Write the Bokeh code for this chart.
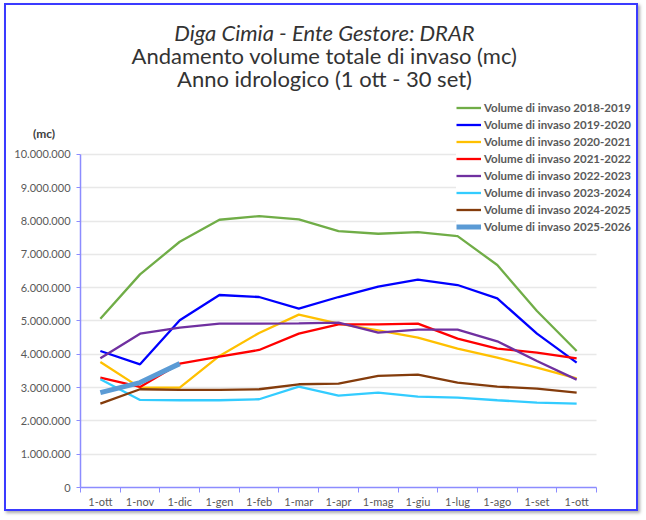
from bokeh.plotting import figure
from bokeh.models import (Range1d, FixedTicker, Legend, LegendItem, Label, ColumnDataSource, Grid)
from bokeh.embed import file_html
from bokeh.resources import INLINE

months = ["1-ott", "1-nov", "1-dic", "1-gen", "1-feb", "1-mar", "1-apr",
          "1-mag", "1-giu", "1-lug", "1-ago", "1-set", "1-ott"]

v_2018_2019 = [5.07, 6.40, 7.38, 8.04, 8.15, 8.05, 7.70, 7.62, 7.67, 7.55, 6.68, 5.30, 4.10]
v_2019_2020 = [4.10, 3.70, 5.02, 5.78, 5.72, 5.37, 5.72, 6.03, 6.24, 6.08, 5.68, 4.62, 3.75]
v_2020_2021 = [3.77, 3.00, 3.00, 3.95, 4.64, 5.19, 4.92, 4.72, 4.50, 4.17, 3.90, 3.60, 3.28]
v_2021_2022 = [3.30, 3.02, 3.72, 3.93, 4.13, 4.62, 4.90, 4.90, 4.92, 4.47, 4.17, 4.05, 3.88]
v_2022_2023 = [3.88, 4.62, 4.80, 4.92, 4.92, 4.93, 4.95, 4.65, 4.74, 4.74, 4.39, 3.80, 3.24]
v_2023_2024 = [3.25, 2.63, 2.62, 2.62, 2.65, 3.03, 2.76, 2.85, 2.73, 2.70, 2.62, 2.55, 2.52]
v_2024_2025 = [2.52, 2.95, 2.93, 2.93, 2.95, 3.10, 3.12, 3.35, 3.39, 3.15, 3.03, 2.97, 2.85]
v_2025_2026 = [2.85, 3.15, 3.72]

series_names = ["Volume di invaso 2018-2019", "Volume di invaso 2019-2020",
                "Volume di invaso 2020-2021", "Volume di invaso 2021-2022",
                "Volume di invaso 2022-2023", "Volume di invaso 2023-2024",
                "Volume di invaso 2024-2025", "Volume di invaso 2025-2026"]
series_values = [v_2018_2019, v_2019_2020, v_2020_2021, v_2021_2022,
                 v_2022_2023, v_2023_2024, v_2024_2025, v_2025_2026]
series_colors = ["#70ad47", "#0000ff", "#ffc000", "#ff0000",
                 "#7030a0", "#33ccff", "#843c0c", "#5b9bd5"]
series_widths = [2.3, 2.3, 2.3, 2.3, 2.3, 2.3, 2.3, 5]

y_ticks = [0, 1e6, 2e6, 3e6, 4e6, 5e6, 6e6, 7e6, 8e6, 9e6, 10e6]
y_tick_labels = ["0", "1.000.000", "2.000.000", "3.000.000", "4.000.000",
                 "5.000.000", "6.000.000", "7.000.000", "8.000.000",
                 "9.000.000", "10.000.000"]

FONT = "Lato"
AXIS_BLUE = "#8c8cff"
TXT = "#595959"

X_LO, X_HI = -0.5, len(months) - 0.5
Y_LO, Y_HI = y_ticks[0], y_ticks[-1]

# the frame covers the whole card so that titles, legend and tick labels are not clipped
p = figure(width=634, height=508, output_backend="svg", toolbar_location=None,
           x_range=Range1d(-2.264, 13.508), y_range=Range1d(-0.7207e6, 14.354e6),
           min_border_left=4, min_border_right=4, min_border_top=4,
           min_border_bottom=2)
p.outline_line_color = None
p.styles = {"border": "2px solid #3a3aff", "margin-left": "4px", "margin-top": "3px",
            "box-shadow": "2px 2px 3px #aaa"}

# grid lines limited to the plot area
if "cross_bounds" in Grid.properties():
    p.ygrid.ticker = FixedTicker(ticks=y_ticks[1:])
    p.ygrid.cross_bounds = (X_LO, X_HI)
    p.ygrid.grid_line_color = "#e8e8e8"
    p.ygrid.grid_line_width = 1.5
else:
    p.ygrid.grid_line_color = None
    p.segment(x0=[X_LO] * 10, x1=[X_HI] * 10, y0=y_ticks[1:], y1=y_ticks[1:],
              line_color="#e8e8e8", line_width=1.5, level="underlay")
p.xgrid.grid_line_color = None

renderers = []
for name, vals, col, w in zip(series_names, series_values, series_colors, series_widths):
    src = ColumnDataSource(dict(x=list(range(len(vals))), y=[v * 1e6 for v in vals]))
    r = p.line("x", "y", source=src, line_color=col, line_width=w)
    renderers.append(LegendItem(label=name, renderers=[r]))

# axes
p.xaxis.fixed_location = Y_LO
p.xaxis.bounds = (X_LO, X_HI)
p.xaxis.ticker = FixedTicker(ticks=list(range(13)), minor_ticks=[k - 0.5 for k in range(14)])
p.xaxis.major_label_overrides = {i: m for i, m in enumerate(months)}
p.xaxis.major_tick_line_color = None
p.xaxis.major_tick_out = 0
p.xaxis.major_tick_in = 0
p.xaxis.minor_tick_out = 5
p.xaxis.minor_tick_in = 0
p.xaxis.minor_tick_line_color = AXIS_BLUE
p.xaxis.axis_line_color = AXIS_BLUE
p.xaxis.axis_line_width = 1.5
p.xaxis.major_label_text_font = FONT
p.xaxis.major_label_text_font_size = "11px"
p.xaxis.major_label_text_color = TXT
p.xaxis.major_label_standoff = 2

p.yaxis.fixed_location = X_LO
p.yaxis.bounds = (Y_LO, Y_HI)
p.yaxis.ticker = FixedTicker(ticks=y_ticks, minor_ticks=[])
p.yaxis.major_label_overrides = {t: l for t, l in zip(y_ticks, y_tick_labels)}
p.yaxis.major_tick_out = 4
p.yaxis.major_tick_in = 0
p.yaxis.major_tick_line_color = AXIS_BLUE
p.yaxis.minor_tick_line_color = None
p.yaxis.axis_line_color = AXIS_BLUE
p.yaxis.axis_line_width = 1.5
p.yaxis.major_label_text_font = FONT
p.yaxis.major_label_text_font_size = "11px"
p.yaxis.major_label_text_color = TXT
p.yaxis.major_label_standoff = 6

# titles (screen units relative to the frame)
titles = [("Diga Cimia - Ente Gestore: DRAR", "italic", 479),
          ("Andamento volume totale di invaso (mc)", "normal", 456),
          ("Anno idrologico (1 ott - 30 set)", "normal", 433)]
for txt, style, yy in titles:
    p.add_layout(Label(x=314, y=yy, x_units="screen", y_units="screen", text=txt,
                       text_align="center", text_baseline="middle",
                       text_font=FONT, text_font_size="22px", text_font_style=style,
                       text_color="#333333"))

p.add_layout(Label(x=33.5, y=378, x_units="screen", y_units="screen", text="(mc)",
                   text_align="center", text_baseline="middle", text_font=FONT,
                   text_font_size="12px", text_font_style="bold", text_color="#404040"))

legend = Legend(items=renderers, location=(446, 276), padding=0, margin=0, spacing=0,
                glyph_width=25, glyph_height=17, label_standoff=3,
                label_text_font=FONT, label_text_font_size="11.5px",
                label_text_font_style="bold", label_text_color=TXT,
                label_height=17, border_line_color=None,
                background_fill_color="white", background_fill_alpha=1)
p.add_layout(legend)

open("out.html", "w").write(file_html(p, INLINE))
